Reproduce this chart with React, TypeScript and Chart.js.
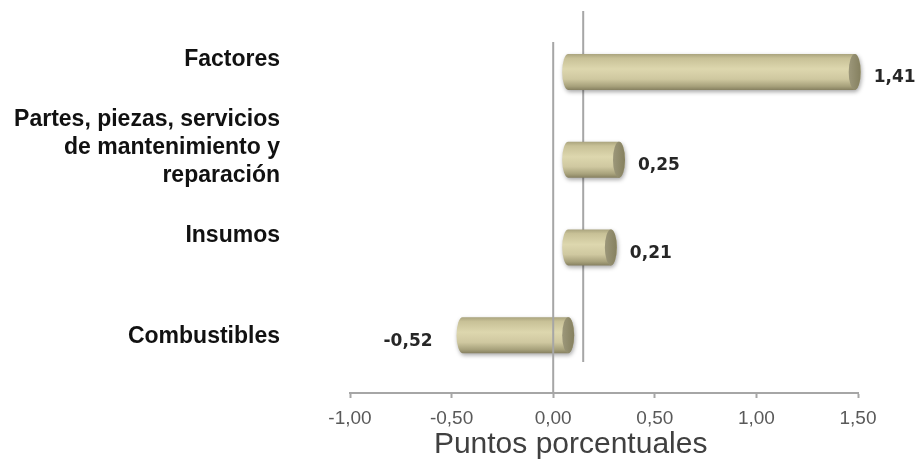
import React, { useEffect, useRef } from "react";
import { Chart, registerables } from "chart.js";

Chart.register(...registerables);

const categories: (string | string[])[] = [
  "Factores",
  ["Partes, piezas, servicios", "de mantenimiento y", "reparación"],
  "Insumos",
  ["", "Combustibles"],
];
const values: number[] = [1.41, 0.25, 0.21, -0.52];
const valueLabels: string[] = ["1,41", "0,25", "0,21", "-0,52"];
const axisTitle = "Puntos porcentuales";
const xMin = -1;
const xMax = 1.5;
const xStep = 0.5;

const DX = 15;
const DY = -14;
const BACK_DX = 30;
const BACK_DY = -31;

function fmt(v: number) {
  return v.toFixed(2).replace(".", ",");
}

function drawCylinder(ctx: CanvasRenderingContext2D, xa: number, xb: number, cy: number, h: number) {
  const rx = 6;
  const ry = h / 2;
  const g = ctx.createLinearGradient(0, cy - ry, 0, cy + ry);
  g.addColorStop(0, "#a9a37d");
  g.addColorStop(0.12, "#c8c197");
  g.addColorStop(0.42, "#ddd7ae");
  g.addColorStop(0.7, "#cfc8a0");
  g.addColorStop(0.9, "#a7a17b");
  g.addColorStop(1, "#878161");
  ctx.save();
  ctx.shadowColor = "rgba(0,0,0,0.35)";
  ctx.shadowBlur = 4;
  ctx.shadowOffsetX = 1;
  ctx.shadowOffsetY = 2;
  ctx.beginPath();
  ctx.moveTo(xa, cy - ry);
  ctx.lineTo(xb, cy - ry);
  ctx.ellipse(xb, cy, rx, ry, 0, -Math.PI / 2, Math.PI / 2, false);
  ctx.lineTo(xa, cy + ry);
  ctx.ellipse(xa, cy, rx, ry, 0, Math.PI / 2, (3 * Math.PI) / 2, false);
  ctx.closePath();
  ctx.fillStyle = g;
  ctx.fill();
  ctx.restore();
  ctx.save();
  const cg = ctx.createLinearGradient(xb - rx, 0, xb + rx, 0);
  cg.addColorStop(0, "#9c977a");
  cg.addColorStop(1, "#85805f");
  ctx.beginPath();
  ctx.ellipse(xb, cy, rx, ry, 0, 0, Math.PI * 2);
  ctx.fillStyle = cg;
  ctx.fill();
  ctx.restore();
}

const cylinderPlugin = {
  id: "cylinders",
  beforeDatasetsDraw(chart: any) {
    const { ctx, chartArea, scales } = chart;
    const x0 = scales.x.getPixelForValue(0);
    ctx.save();
    ctx.strokeStyle = "#a6a6a6";
    ctx.lineWidth = 2;
    ctx.beginPath();
    ctx.moveTo(x0 + BACK_DX, chartArea.top + BACK_DY);
    ctx.lineTo(x0 + BACK_DX, chartArea.bottom + BACK_DY);
    ctx.stroke();
    ctx.restore();
  },
  afterDatasetsDraw(chart: any) {
    const { ctx, chartArea, scales } = chart;
    const xs = scales.x;
    const ys = scales.y;
    const x0 = xs.getPixelForValue(0);
    const h = 36;
    values.forEach((v, i) => {
      const xv = xs.getPixelForValue(v);
      const cy = ys.getPixelForValue(i);
      const a = Math.min(x0, xv) + DX;
      const b = Math.max(x0, xv) + DX;
      drawCylinder(ctx, a, b, cy + DY, h);
    });
    ctx.save();
    ctx.strokeStyle = "#a6a6a6";
    ctx.lineWidth = 2;
    ctx.beginPath();
    ctx.moveTo(x0, chartArea.top);
    ctx.lineTo(x0, chartArea.bottom);
    ctx.stroke();
    ctx.restore();
    ctx.save();
    ctx.font = "bold 17px 'DejaVu Sans'";
    ctx.fillStyle = "#262626";
    ctx.textBaseline = "middle";
    values.forEach((v, i) => {
      const xv = xs.getPixelForValue(v);
      const cy = ys.getPixelForValue(i);
      if (v >= 0) {
        ctx.textAlign = "left";
        ctx.fillText(valueLabels[i], xv + DX + 19, cy - 8);
      } else {
        ctx.textAlign = "right";
        ctx.fillText(valueLabels[i], xv + DX - 30, cy - 8);
      }
    });
    ctx.restore();
  },
};

export default function App() {
  const ref = useRef<HTMLCanvasElement | null>(null);
  useEffect(() => {
    if (!ref.current) return;
    const chart = new Chart(ref.current, {
      type: "bar",
      data: {
        labels: categories as any,
        datasets: [
          {
            data: values,
            backgroundColor: "rgba(0,0,0,0)",
            borderWidth: 0,
            barThickness: 36,
          },
        ],
      },
      options: {
        indexAxis: "y",
        responsive: false,
        animation: false,
        layout: { padding: { top: 42, right: 59, left: 0, bottom: 0 } },
        plugins: { legend: { display: false }, tooltip: { enabled: false } },
        scales: {
          x: {
            type: "linear",
            min: xMin,
            max: xMax,
            ticks: {
              stepSize: xStep,
              callback: (v: any) => fmt(Number(v)),
              color: "#595959",
              font: { family: "'Liberation Sans', Arial", size: 19 },
              padding: 9,
            },
            grid: {
              color: "rgba(0,0,0,0)",
              drawTicks: true,
              tickLength: 5,
              tickColor: "#a6a6a6",
              tickWidth: 2,
            },
            border: { display: true, color: "#a6a6a6", width: 2 },
            title: {
              display: true,
              text: axisTitle + "\u00a0".repeat(8),
              color: "#404040",
              font: { family: "'Liberation Sans', Arial", size: 30 },
              padding: { top: 0, bottom: 0 },
            },
            afterFit: (scale: any) => {
              scale.height = 70;
              scale.paddingLeft = 0;
              scale.paddingRight = 0;
            },
          },
          y: {
            type: "category",
            ticks: {
              color: "#111111",
              font: { family: "'Liberation Sans', Arial", size: 23, weight: "bold", lineHeight: 1.22 },
              padding: 70,
              labelOffset: -26,
            },
            grid: { display: false, drawTicks: false },
            border: { display: false },
            afterFit: (scale: any) => {
              scale.width = 350;
              scale.paddingTop = 0;
              scale.paddingBottom = 0;
            },
          },
        },
      } as any,
      plugins: [cylinderPlugin],
    });
    return () => chart.destroy();
  }, []);
  return (
    <div style={{ position: "fixed", left: 0, top: 0, width: 917, height: 463, background: "#fff" }}>
      <canvas ref={ref} width={917} height={463} />
    </div>
  );
}
